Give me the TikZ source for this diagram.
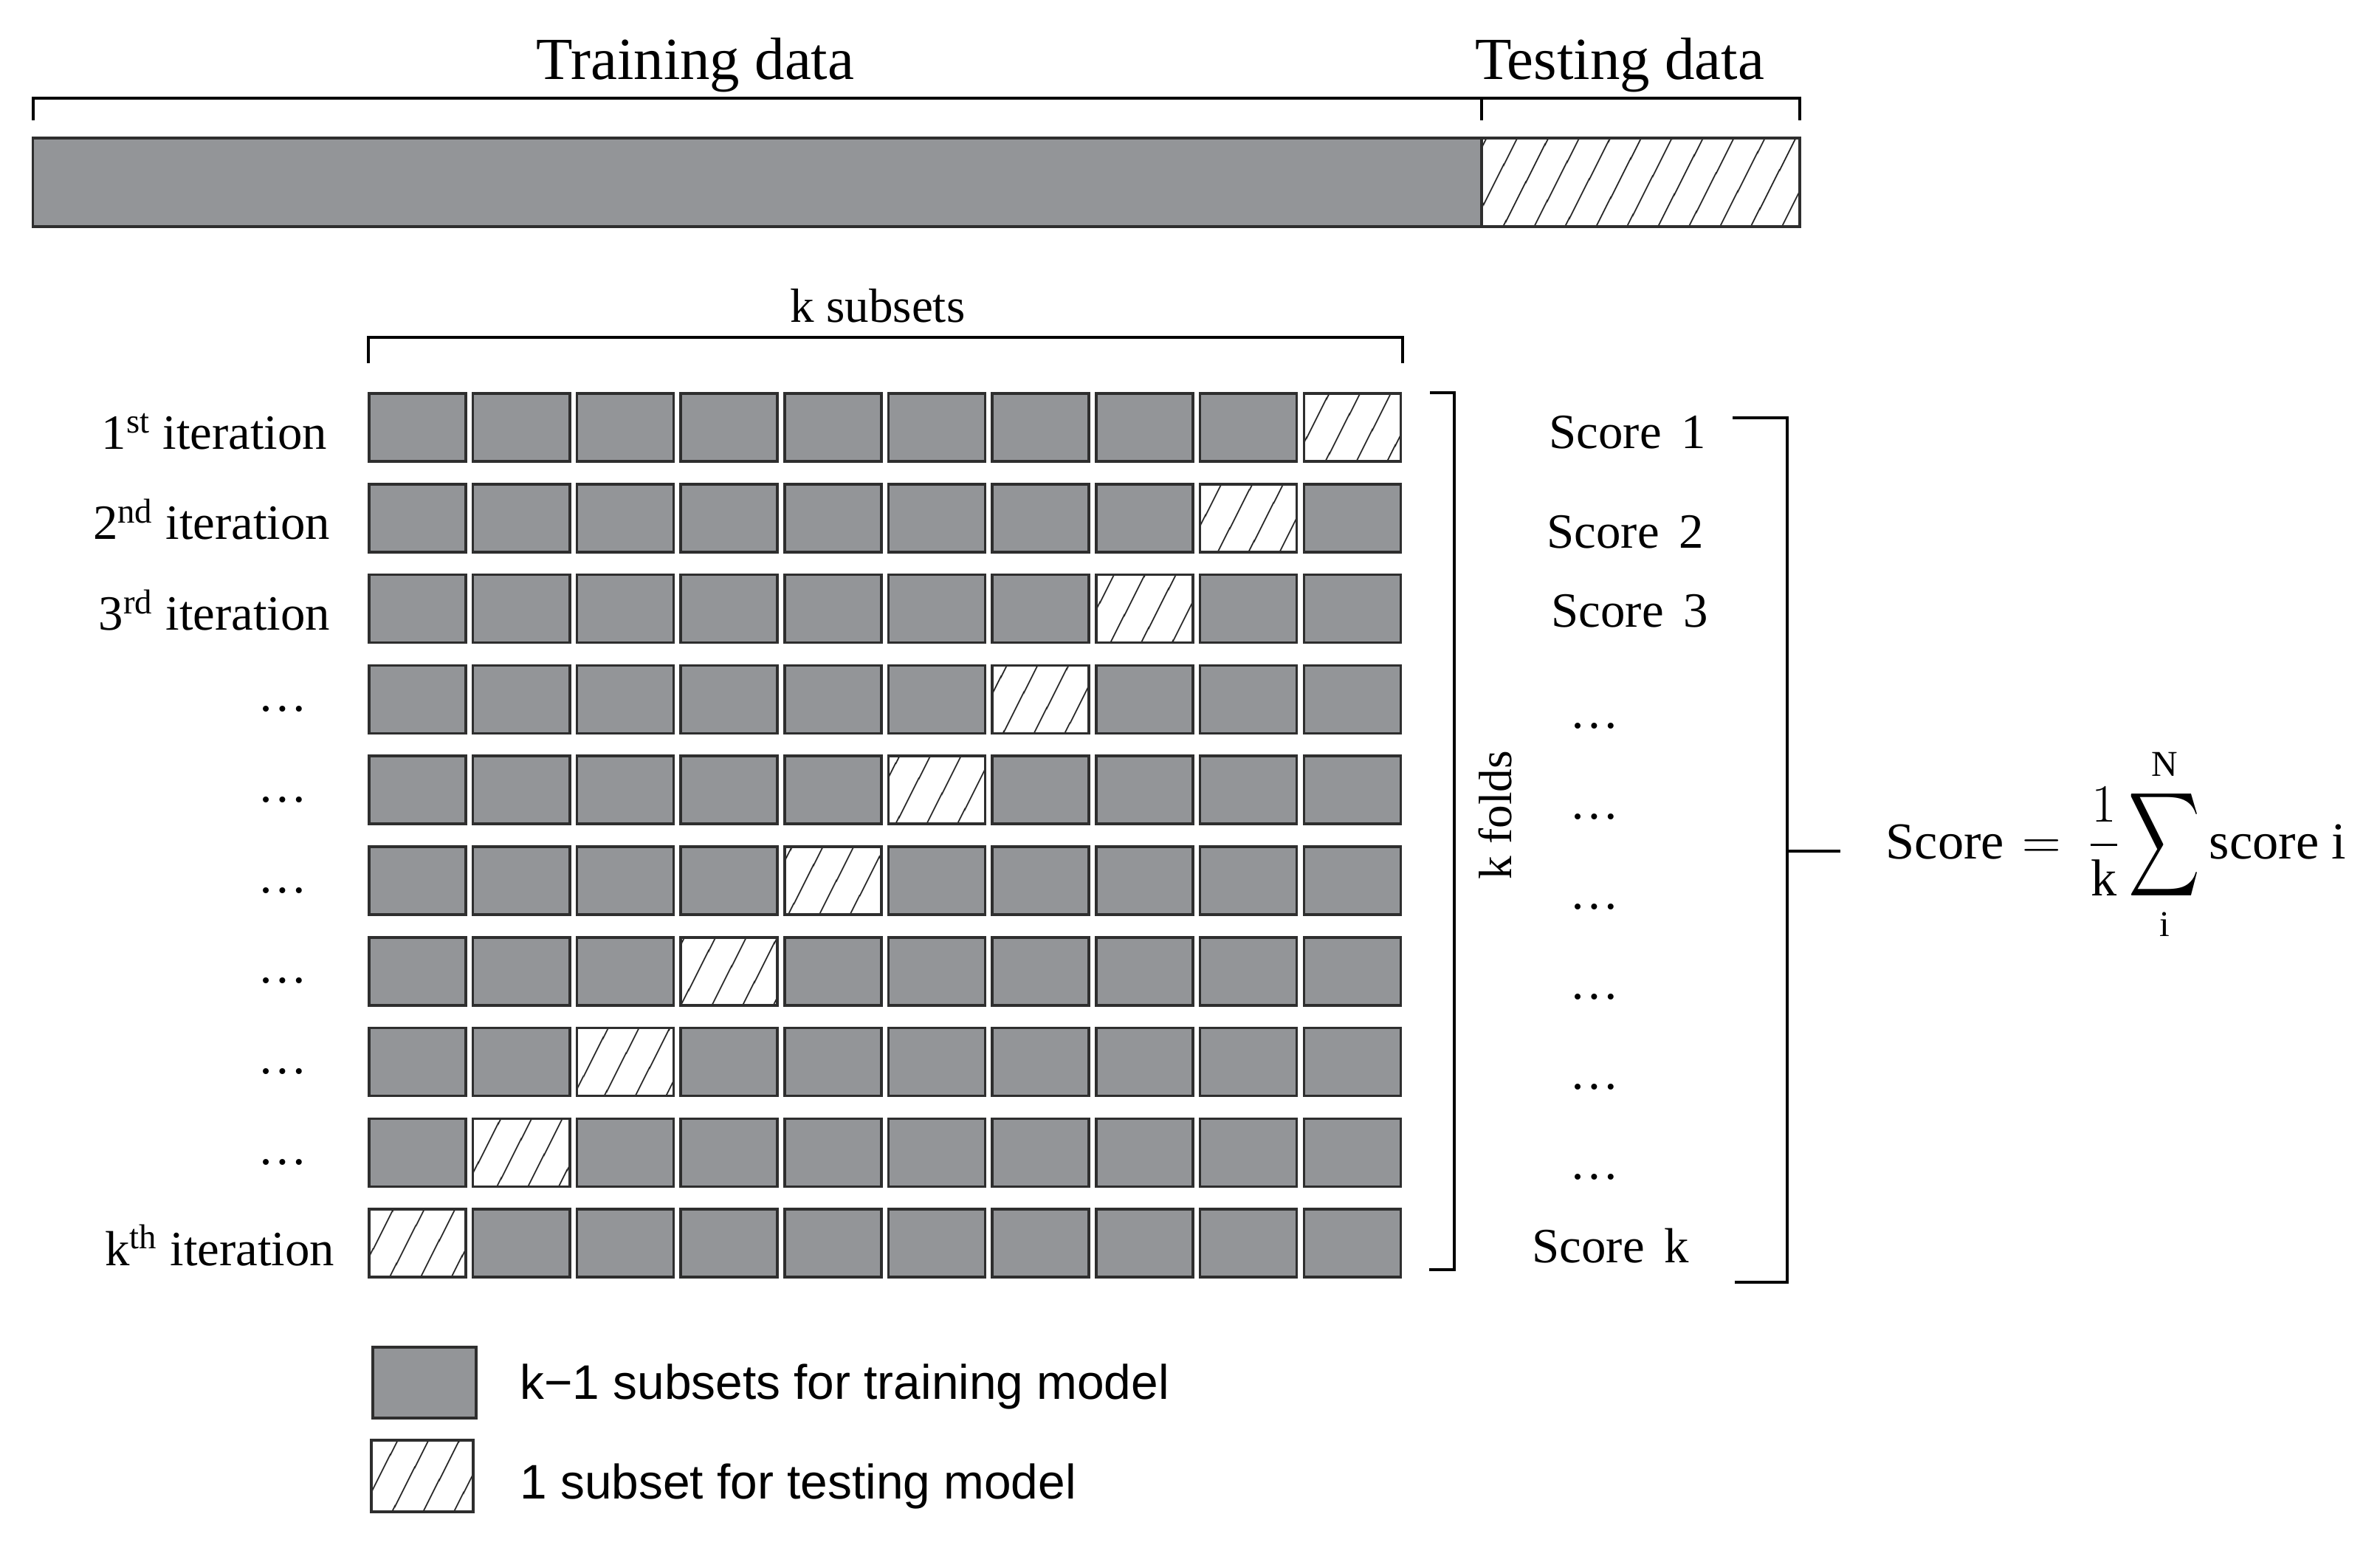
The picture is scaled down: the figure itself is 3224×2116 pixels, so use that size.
\documentclass[tikz,border=0pt]{standalone}
\usepackage{amsmath}
\usepackage{fontspec}
\setmainfont{Liberation Serif}
\setsansfont{Liberation Sans}
\usepackage{tikz}
\usetikzlibrary{patterns.meta}
\definecolor{foldGray}{HTML}{939598}
\definecolor{edgeDark}{HTML}{2E2E2E}

\tikzset{
    trainbox/.style={draw=edgeDark, fill=foldGray, line width=1pt,
        minimum width=1.31cm, minimum height=0.92cm, inner sep=0pt},
    testbox/.style={draw=edgeDark, line width=1pt,
        minimum width=1.31cm, minimum height=0.92cm, inner sep=0pt,
        pattern={Lines[angle=63, distance=10.5pt, line width=0.5pt]}},
    bigtext/.style={font=\fontsize{23}{27}\selectfont, inner sep=0pt},
    rowtext/.style={font=\fontsize{19}{23}\selectfont, inner sep=0pt},
    keytext/.style={font=\sffamily\fontsize{18.7}{22}\selectfont, inner sep=0pt},
    bracket/.style={draw=black, line width=1pt}
}

\begin{document}
\begin{tikzpicture}[x=0.01cm, y=-0.01cm]
    \useasboundingbox (0,0) rectangle (3224,2116);

    % whole data set
    \node[trainbox, minimum width=19.62cm, minimum height=1.2cm] (trainbar) at (1026,247) {};
    \node[testbox, minimum width=4.31cm, minimum height=1.2cm] (testbar) at (2222.5,247) {};
    \draw[bracket] (45,163) |- (2438,133) -- (2438,163);
    \draw[bracket] (2007,133) -- (2007,163);
    \node[bigtext, anchor=base] (trainlbl) at (942,108) {Training data};
    \node[bigtext, anchor=base] (testlbl) at (2194,108) {Testing data};

    % k subsets
    \draw[bracket] (499,492) |- (1900,457) -- (1900,492);
    \node[font=\fontsize{18.5}{22}\selectfont, anchor=base] (subsetlbl) at (1189,437) {k subsets};

    % folds grid
    \foreach \j in {0,...,9} {
        \foreach \i in {0,...,9} {
            \pgfmathtruncatemacro{\t}{9-\j}
            \ifnum\i=\t
                \node[testbox] (fold-\j-\i) at ({565.5+140.7*\i},{579+122.8*\j}) {};
            \else
                \node[trainbox] (fold-\j-\i) at ({565.5+140.7*\i},{579+122.8*\j}) {};
            \fi
        }
    }

    % iteration labels
    \node[rowtext, anchor=base east] (iter1) at (444,609) {1\textsuperscript{st} iteration};
    \node[rowtext, anchor=base east] (iter2) at (448,731) {2\textsuperscript{nd} iteration};
    \node[rowtext, anchor=base east] (iter3) at (448,854) {3\textsuperscript{rd} iteration};
    \node[rowtext, anchor=base east] (iterk) at (454,1714) {k\textsuperscript{th} iteration};
    \foreach \j in {3,...,8}
        \node[rowtext, anchor=base] (ldots-\j) at (383,{595+122.8*\j}) {\dots};

    % k folds
    \draw[bracket, line width=0.9pt] (1937,532) -| (1970,1720) -- (1936,1720);
    \node[font=\fontsize{18}{22}\selectfont, rotate=90] (foldlbl) at (2025,1104) {k folds};

    % scores
    \node[rowtext, anchor=base west] (score1) at (2098,608) {Score\hspace{0.4em}1};
    \node[rowtext, anchor=base west] (score2) at (2095,743) {Score\hspace{0.4em}2};
    \node[rowtext, anchor=base west] (score3) at (2101,850) {Score\hspace{0.4em}3};
    \node[rowtext, anchor=base west] (scorek) at (2075,1710) {Score\hspace{0.4em}k};
    \foreach \j in {3,...,8}
        \node[rowtext, anchor=base] (rdots-\j) at (2160,{987+122*(\j-3)}) {\dots};

    \draw[bracket, line width=1.4pt] (2347,566) -| (2421,1737) -- (2350,1737);
    \draw[bracket, line width=1.4pt] (2421,1153) -- (2493,1153);
    \node[font=\fontsize{20}{24}\selectfont, inner sep=0pt, anchor=base west] (avgscore) at (2554,1163)
        {$\text{Score}\mkern1mu = \mkern4mu\dfrac{1}{\mathrm{k}}\mathop{\vcenter{\hbox{\scalebox{0.92}[1.35]{$\displaystyle\sum$}}}}\limits_{\mathrm{i}}^{\mathrm{N}} \text{score i}$};

    % legend
    \node[trainbox, minimum width=1.4cm, minimum height=0.96cm] (keytrain) at (575,1873) {};
    \node[testbox, minimum width=1.38cm, minimum height=0.97cm] (keytest) at (572,1999.5) {};
    \node[keytext, anchor=base west] (keytraintxt) at (704,1895) {k−1 subsets for training model};
    \node[keytext, anchor=base west] (keytesttxt) at (704,2030) {1 subset for testing model};
\end{tikzpicture}
\end{document}
